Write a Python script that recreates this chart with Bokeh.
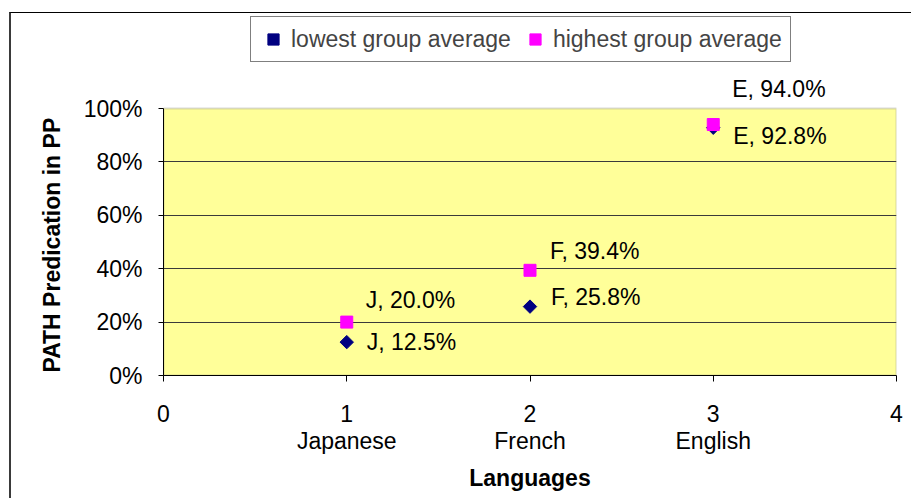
import math
from bokeh.plotting import figure
from bokeh.models import (ColumnDataSource, Legend, LegendItem, FixedTicker,
                          PrintfTickFormatter, Range1d, BoxAnnotation, LabelSet,
                          InlineStyleSheet, Title)
from bokeh.core.properties import value
from bokeh.embed import file_html
from bokeh.resources import INLINE

# ---- data ----
languages = ["Japanese", "French", "English"]
codes = ["J", "F", "E"]
x_pos = [1, 2, 3]
lowest = [12.5, 25.8, 92.8]
highest = [20.0, 39.4, 94.0]
series_names = ["lowest group average", "highest group average"]
y_ticks = [0, 20, 40, 60, 80, 100]
x_ticks = [0, 1, 2, 3, 4]
x_title = "Languages"
y_title = "PATH Predication in PP"

# ---- label placement (style, screen px; positive = up) ----
low_dx = [20, 21, 20]
low_dy = [0, 10, -8]
high_dx = [19, 20, 19]
high_dy = [22, 19, 36]

FONT = "Liberation Sans"
FS = "23px"

# ---- layout (px) ----
W, H = 911, 498
AREA_TOP, AREA_BOTTOM = 108, 375      # plot-area top / bottom on the page
FRAME_TOP = 0
y_end = y_ticks[-1] * (AREA_BOTTOM - FRAME_TOP) / (AREA_BOTTOM - AREA_TOP)

src_low = ColumnDataSource(dict(
    x=x_pos, y=lowest, dx=low_dx, dy=low_dy,
    label=[f"{c}, {v:.1f}%" for c, v in zip(codes, lowest)]))
src_high = ColumnDataSource(dict(
    x=x_pos, y=highest, dx=high_dx, dy=high_dy,
    label=[f"{c}, {v:.1f}%" for c, v in zip(codes, highest)]))

p = figure(width=W, height=H, output_backend="svg", toolbar_location=None,
           x_range=Range1d(x_ticks[0], x_ticks[-1]),
           y_range=Range1d(y_ticks[0], y_end),
           min_border_left=163, min_border_right=15,
           min_border_top=FRAME_TOP, min_border_bottom=H - AREA_BOTTOM)
p.background_fill_color = "white"
p.border_fill_color = "white"
p.outline_line_color = None

# yellow plot area
p.add_layout(BoxAnnotation(left=x_ticks[0], right=x_ticks[-1],
                           bottom=y_ticks[0], top=y_ticks[-1],
                           fill_color="#FFFF99", fill_alpha=1,
                           line_color="#808080", line_width=2, level="image"))

# grid
p.xgrid.visible = False
p.ygrid.ticker = FixedTicker(ticks=y_ticks[1:-1])
p.ygrid.grid_line_color = "#3a3a3a"
p.ygrid.grid_line_width = 1

# axes
p.yaxis.ticker = FixedTicker(ticks=y_ticks)
p.yaxis.formatter = PrintfTickFormatter(format="%d%%")
p.yaxis.bounds = (y_ticks[0], y_ticks[-1])
p.xaxis.ticker = FixedTicker(ticks=x_ticks)
overrides = {t: str(t) for t in x_ticks}
for xv, lang in zip(x_pos, languages):
    overrides[xv] = f"{xv}\n{lang}"
p.xaxis.major_label_overrides = overrides

for ax in (p.xaxis[0], p.yaxis[0]):
    ax.axis_line_color = "black"
    ax.axis_line_width = 1
    ax.major_tick_line_color = "black"
    ax.minor_tick_line_color = None
    ax.major_tick_in = 0
    ax.major_label_text_font = FONT
    ax.major_label_text_font_size = FS
    ax.major_label_text_color = "black"
    ax.major_label_text_line_height = 1.04
    ax.axis_label_text_font = FONT
    ax.axis_label_text_font_size = FS
    ax.axis_label_text_font_style = "bold"
    ax.axis_label_text_color = "black"

p.yaxis.major_tick_out = 5
p.yaxis.major_label_standoff = 16
p.xaxis.major_tick_out = 6
p.xaxis.major_label_standoff = 19
p.xaxis.axis_label = x_title
p.xaxis.axis_label_standoff = 8

# y title, anchored at the bottom of the plot area
p.add_layout(Title(text=y_title, align="left", offset=3, standoff=32,
                   text_font=FONT, text_font_size=FS, text_font_style="bold",
                   text_color="black"), "left")

# markers
r_low = p.scatter("x", "y", source=src_low, marker="square", angle=math.pi / 4,
                  size=9.5, fill_color="#000080", line_color="#000080")
r_high = p.scatter("x", "y", source=src_high, marker="square", size=12,
                   fill_color="#FF00FF", line_color="#FF00FF")

# data labels
for src in (src_low, src_high):
    p.add_layout(LabelSet(x="x", y="y", text="label", x_offset="dx", y_offset="dy",
                          source=src, text_font=value(FONT), text_font_size=value(FS),
                          text_baseline="middle", text_align="left", text_color="black"))

# legend
legend = Legend(items=[LegendItem(label=series_names[0], renderers=[r_low]),
                       LegendItem(label=series_names[1], renderers=[r_high])],
                orientation="horizontal", location=(87, AREA_BOTTOM - 62),
                label_text_font=FONT, label_text_font_size=FS,
                glyph_width=28, glyph_height=28, label_standoff=4,
                spacing=10, padding=8, margin=0,
                border_line_color="black", border_line_width=1,
                background_fill_color="white", background_fill_alpha=1)
p.add_layout(legend, "center")

# outer chart-area border (decoration)
p.stylesheets = [InlineStyleSheet(css="""
:host { position: relative; overflow: hidden; }
:host::after { content: ''; position: absolute; left: 9px; top: 12px;
  width: 920px; height: 520px; box-sizing: border-box;
  border-left: 2px solid #3a3a3a; border-top: 1px solid #000;
  pointer-events: none; z-index: 10; }
""")]

open("out.html", "w").write(file_html(p, INLINE))
